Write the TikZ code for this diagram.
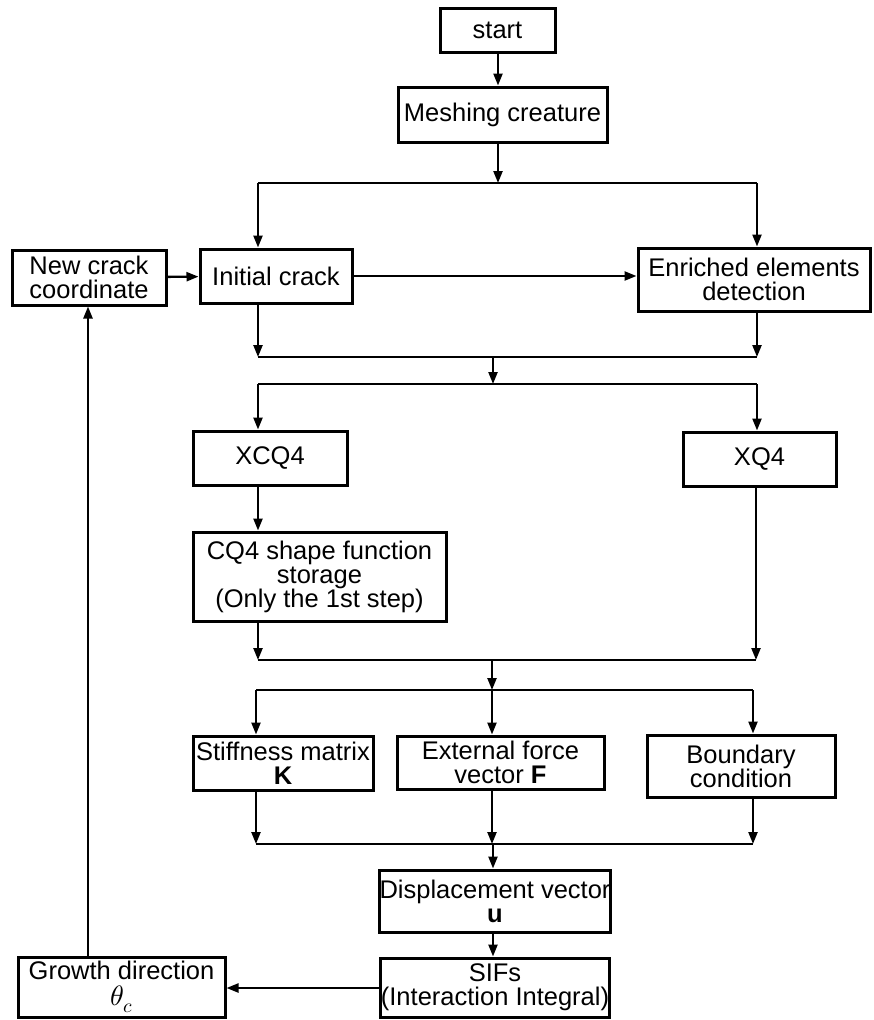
\documentclass[tikz,border=0pt]{standalone}
\usepackage{fontspec}
\usepackage{unicode-math}
\setmainfont{Liberation Sans}
\setmathfont{Latin Modern Math}
\usetikzlibrary{arrows.meta, positioning}

\begin{document}
\begin{tikzpicture}[x=1pt, y=-1pt, >={Triangle[length=12pt, width=9pt]},
    box/.style={draw, line width=3pt, align=center, inner sep=0pt,
      font=\fontsize{25.5}{24}\selectfont},
    link/.style={line width=2.3pt}]
  \useasboundingbox (0,0) rectangle (873,1020);

  % boxes
  \node[box, minimum width=115, minimum height=44] (start) at (497.5,30) {start};
  \node[box, minimum width=209, minimum height=55] (mesh) at (502.5,114.5) {Meshing creature};
  \node[box, minimum width=154, minimum height=55] (newcrack) at (89,277.5) {New crack\\coordinate};
  \node[box, minimum width=152, minimum height=54] (init) at (276,276) {Initial crack};
  \node[box, minimum width=232, minimum height=63] (enrich) at (754,279.5) {Enriched elements\\detection};
  \node[box, minimum width=154, minimum height=54] (xcq) at (270,458) {XCQ4};
  \node[box, minimum width=253, minimum height=89] (cqshape) at (319.5,576.5)
    {CQ4 shape function\\storage\\(Only the 1st step)};
  \node[box, minimum width=153, minimum height=54] (xq) at (759.5,459) {XQ4};
  \node[box, minimum width=180, minimum height=54] (stiff) at (283,763) {Stiffness matrix\\\textbf{K}};
  \node[box, minimum width=207, minimum height=53] (force) at (500.5,762.5) {External force\\vector \textbf{F}};
  \node[box, minimum width=188, minimum height=62] (bound) at (741,766) {Boundary\\condition};
  \node[box, minimum width=226, minimum height=62] (disp) at (495,901) {Displacement vector\\\textbf{u}};
  \node[box, minimum width=226, minimum height=59] (sif) at (495,987.5) {SIFs\\(Interaction Integral)};
  \node[box, minimum width=207, minimum height=60] (growth) at (121.5,987)
    {Growth direction\\[2pt]{\fontsize{28}{24}\selectfont$\theta_c$}};

  % junction points on the bars
  \coordinate (j1) at (498,183);
  \coordinate (j2) at (493,357);
  \coordinate (j3) at (493,384);
  \coordinate (j4) at (492,660);
  \coordinate (j5) at (492,690);
  \coordinate (j6) at (493,844);

  % bars
  \draw[link] (258,183) -- (757,183);
  \draw[link] (258,357) -- (757,357);
  \draw[link] (258,384) -- (757,384);
  \draw[link] (258,660) -- (756,660);
  \draw[link] (256,690) -- (753,690);
  \draw[link] (256,844) -- (753,844);

  % connectors
  \draw[link, ->] (start.south -| j1) -- (mesh.north -| j1);
  \draw[link, ->] (mesh.south -| j1) -- (j1);
  \draw[link, ->] (258,183) -- (init.north -| 258,0);
  \draw[link, ->] (757,183) -- (enrich.north -| 757,0);
  \draw[link, ->] (newcrack) -- (init);
  \draw[link, ->] (init.east) -- (enrich.west |- init.east);
  \draw[link, ->] (init.south -| 258,0) -- (258,357);
  \draw[link, ->] (enrich.south -| 757,0) -- (757,357);
  \draw[link, ->] (j2) -- (j3);
  \draw[link, ->] (258,384) -- (xcq.north -| 258,0);
  \draw[link, ->] (757,384) -- (xq.north -| 757,0);
  \draw[link, ->] (xcq.south -| 258,0) -- (cqshape.north -| 258,0);
  \draw[link, ->] (cqshape.south -| 258,0) -- (258,660);
  \draw[link, ->] (xq.south -| 756,0) -- (756,660);
  \draw[link, ->] (j4) -- (j5);
  \draw[link, ->] (256,690) -- (stiff.north -| 256,0);
  \draw[link, ->] (j5) -- (force.north -| j5);
  \draw[link, ->] (753,690) -- (bound.north -| 753,0);
  \draw[link, ->] (stiff.south -| 256,0) -- (256,844);
  \draw[link, ->] (force.south -| j5) -- (j5 |- j6);
  \draw[link, ->] (bound.south -| 753,0) -- (753,844);
  \draw[link, ->] (j6) -- (disp.north -| j6);
  \draw[link, ->] (disp.south -| j6) -- (sif.north -| j6);
  \draw[link, ->] (sif.west |- 0,988) -- (growth.east |- 0,988);
  \draw[link, ->] (growth.north -| 88,0) -- (newcrack.south -| 88,0);
\end{tikzpicture}
\end{document}
